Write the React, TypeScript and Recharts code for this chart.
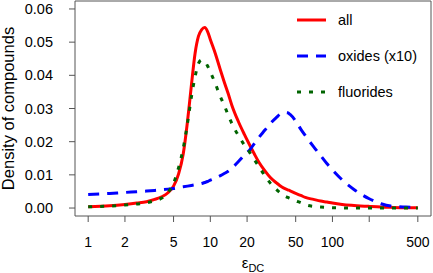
import React from "react";
import {
  LineChart,
  Line,
  XAxis,
  YAxis,
  ReferenceArea,
  Label,
} from "recharts";

// eps_DC sample points (log axis)
const epsValues = [
  1, 1.5, 2, 2.5, 3, 3.5, 4, 4.5, 5, 5.5, 6, 6.5, 7, 7.5, 8, 8.5, 9, 9.5, 10,
  11, 12, 13, 14, 15, 17, 19, 21, 23, 25, 28, 31, 35, 37, 40, 43, 45, 50, 55,
  60, 70, 80, 90, 100, 120, 150, 200, 250, 300, 400, 500,
];

const allDensity = [
  0.0004, 0.0007, 0.0011, 0.0015, 0.0019, 0.0026, 0.0034, 0.0046, 0.0066,
  0.0103, 0.0163, 0.026, 0.037, 0.0466, 0.0518, 0.0538, 0.0544, 0.0532, 0.0508,
  0.0465, 0.042, 0.038, 0.0345, 0.031, 0.026, 0.0222, 0.019, 0.0162, 0.0138,
  0.0112, 0.0092, 0.0075, 0.0068, 0.006, 0.0055, 0.0052, 0.0044, 0.0038,
  0.0032, 0.0026, 0.0021, 0.0018, 0.0015, 0.0011, 0.0008, 0.0005, 0.0003,
  0.0002, 0.0001, 0.0001,
];

const oxidesDensity = [
  0.0041, 0.0044, 0.0047, 0.0049, 0.0051, 0.0053, 0.0055, 0.0057, 0.0059,
  0.0062, 0.0064, 0.0066, 0.0068, 0.007, 0.0072, 0.0074, 0.0077, 0.008, 0.0084,
  0.009, 0.0097, 0.0104, 0.0111, 0.012, 0.014, 0.016, 0.0175, 0.0195, 0.0213,
  0.0235, 0.0255, 0.0274, 0.0282, 0.0288, 0.0287, 0.0282, 0.0262, 0.0238,
  0.0218, 0.0185, 0.0158, 0.0134, 0.0115, 0.0085, 0.0056, 0.0028, 0.0013,
  0.0006, 0.0003, 0.0002,
];

const fluoridesDensity = [
  0.0004, 0.0006, 0.0009, 0.0012, 0.0016, 0.0022, 0.003, 0.0047, 0.0075,
  0.0122, 0.018, 0.0255, 0.0335, 0.0395, 0.0436, 0.0446, 0.0442, 0.0428, 0.041,
  0.0375, 0.0338, 0.031, 0.028, 0.0255, 0.0218, 0.019, 0.0168, 0.0145, 0.0125,
  0.0097, 0.0075, 0.0055, 0.0047, 0.0038, 0.0032, 0.0029, 0.0022, 0.0016,
  0.001, 0.0005, 0.0003, 0.0002, 0.0001, 0.00005, 0, 0, 0, 0, 0, 0,
];

const xTicks = [1, 2, 5, 10, 20, 50, 100, 200, 500];
const xTickLabels: Record<number, string> = {
  1: "1", 2: "2", 5: "5", 10: "10", 20: "20", 50: "50", 100: "100", 200: "", 500: "500",
};
const yTicks = [0, 0.01, 0.02, 0.03, 0.04, 0.05, 0.06];

const seriesInfo = [
  { key: "all", label: "all", color: "#ff0000", dash: undefined },
  { key: "oxides", label: "oxides (x10)", color: "#0000ff", dash: "11 8" },
  { key: "fluorides", label: "fluorides", color: "#006400", dash: "4 8" },
];

const rows = epsValues.map((x, i) => ({
  x,
  all: allDensity[i],
  oxides: oxidesDensity[i],
  fluorides: fluoridesDensity[i],
}));

const font = "'Liberation Sans', Arial, Helvetica, sans-serif";
const X_DOMAIN: [number, number] = [0.78, 641];
const Y_DOMAIN: [number, number] = [-0.0024, 0.0624];

// legend drawn as an overlay so it doesn't eat into the plot area
const LegendBox = () => (
  <svg
    width={143}
    height={105}
    style={{ position: "absolute", left: 290, top: 0 }}
  >
    {seriesInfo.map((s, i) => {
      const y = 20 + i * 36;
      return (
        <g key={s.key}>
          <line
            x1={7}
            x2={36}
            y1={y}
            y2={y}
            stroke={s.color}
            strokeWidth={3}
            strokeDasharray={s.dash}
          />
          <text
            x={48}
            y={y}
            dy="0.35em"
            fontSize={14.5}
            fontFamily={font}
            fill="#000"
          >
            {s.label}
          </text>
        </g>
      );
    })}
  </svg>
);

export default function App() {
  return (
    <div
      style={{
        position: "absolute",
        left: 0,
        top: 0,
        width: 433,
        height: 273,
        background: "#fff",
      }}
    >
      <LineChart
        width={433}
        height={273}
        data={rows}
        margin={{ top: 1, right: 2, bottom: 0, left: 0 }}
      >
        <XAxis
          dataKey="x"
          type="number"
          scale="log"
          domain={X_DOMAIN}
          allowDataOverflow
          ticks={xTicks}
          tickFormatter={(v: number) => xTickLabels[v] ?? String(v)}
          height={57}
          axisLine={false}
          tickLine={{ stroke: "#555" }}
          tickSize={6}
          tickMargin={15}
          tick={{ fill: "#000", fontSize: 14, fontFamily: font }}
        >
          <Label
            content={(props: any) => {
              const vb = props.viewBox || {};
              const cx = (vb.x ?? 75) + (vb.width ?? 356) / 2;
              return (
                <text
                  x={cx}
                  y={268}
                  textAnchor="middle"
                  fontFamily={font}
                  fill="#000"
                >
                  <tspan fontSize={15}>ε</tspan>
                  <tspan fontSize={11} dy={4}>
                    DC
                  </tspan>
                </text>
              );
            }}
          />
        </XAxis>
        <YAxis
          type="number"
          domain={Y_DOMAIN}
          allowDataOverflow
          ticks={yTicks}
          tickFormatter={(v: number) => v.toFixed(2)}
          width={75}
          axisLine={false}
          tickLine={{ stroke: "#555" }}
          tickSize={6}
          tickMargin={16}
          tick={{ fill: "#000", fontSize: 14.5, fontFamily: font }}
        >
          <Label
            content={(props: any) => {
              const vb = props.viewBox || {};
              const cy = (vb.y ?? 1) + (vb.height ?? 215) / 2;
              return (
                <text
                  transform={`translate(14, ${cy}) rotate(-90)`}
                  textAnchor="middle"
                  fontSize={16.5}
                  fontFamily={font}
                  fill="#000"
                >
                  Density of compounds
                </text>
              );
            }}
          />
        </YAxis>
        <ReferenceArea
          x1={X_DOMAIN[0]}
          x2={X_DOMAIN[1]}
          y1={Y_DOMAIN[0]}
          y2={Y_DOMAIN[1]}
          fill="none"
          stroke="#555"
          strokeWidth={1}
          ifOverflow="visible"
        />
        {seriesInfo.map((s) => (
          <Line
            key={s.key}
            dataKey={s.key}
            type="monotone"
            stroke={s.color}
            strokeWidth={3}
            strokeDasharray={s.dash}
            dot={false}
            activeDot={false}
            isAnimationActive={false}
          />
        ))}
      </LineChart>
      <LegendBox />
    </div>
  );
}
